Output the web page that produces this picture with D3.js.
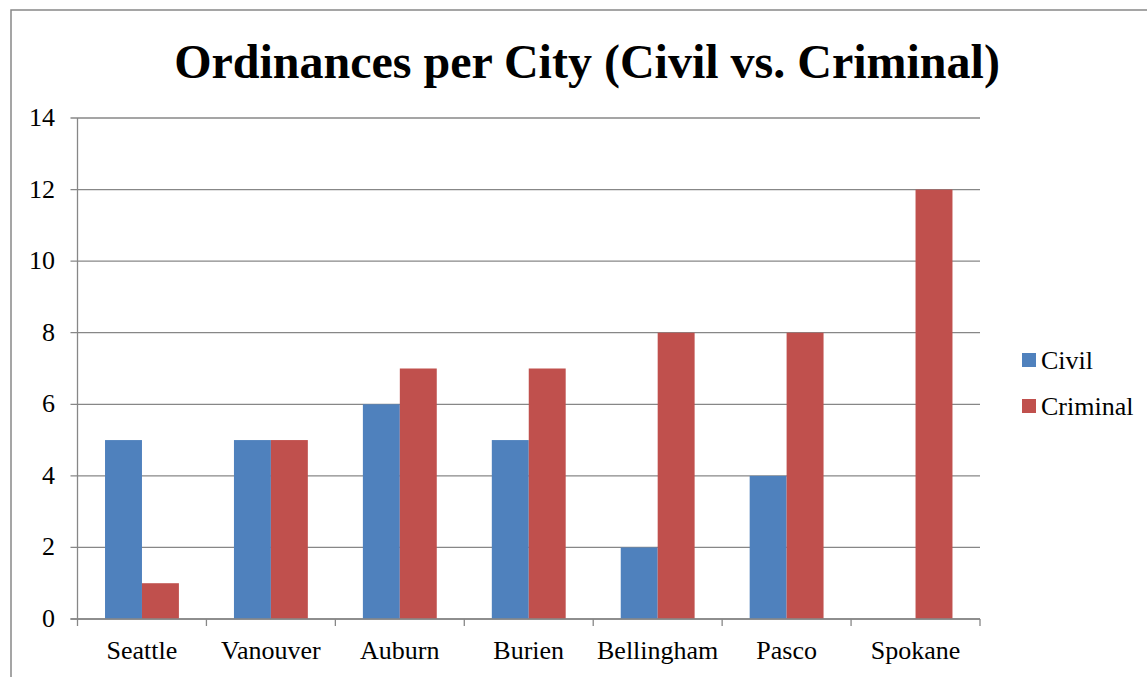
<!DOCTYPE html>
<html><head><meta charset="utf-8">
<script src="https://cdn.jsdelivr.net/npm/d3@7"></script>
<style>body{margin:0;background:#fff}svg{display:block}</style>
</head><body>
<svg id="c" width="1147" height="677"></svg>
<script>
const cities = ["Seattle","Vanouver","Auburn","Burien","Bellingham","Pasco","Spokane"];
const civil = [5,5,6,5,2,4,0];
const criminal = [1,5,7,7,8,8,12];
const seriesNames = ["Civil","Criminal"];
const colors = ["#4F81BD","#C0504D"];
const yTicks = [0,2,4,6,8,10,12,14];

const FF = '"Liberation Serif","Times New Roman",serif';
const svg = d3.select("#c");
svg.append("rect").attr("x",11).attr("y",10).attr("width",1150).attr("height",700)
  .attr("fill","none").attr("stroke","#888").attr("stroke-width",1.5);

const L=77.5, R=980, T=118, B=619;
const x0 = d3.scaleBand().domain(cities).range([L,R]);
const gw = x0.bandwidth()*0.573;
const x1 = d3.scaleBand().domain(seriesNames).range([0,gw]);
const y = d3.scaleLinear().domain([0,14]).range([B,T]);

svg.append("g").selectAll("line").data(yTicks).join("line")
  .attr("x1",L-7).attr("x2",R).attr("y1",d=>y(d)).attr("y2",d=>y(d))
  .attr("stroke","#878787").attr("stroke-width",1.3);
svg.append("line").attr("x1",L).attr("x2",L).attr("y1",T).attr("y2",B)
  .attr("stroke","#878787").attr("stroke-width",1.3);
svg.append("g").selectAll("text").data(yTicks).join("text")
  .attr("x",55).attr("y",d=>y(d)+8).attr("text-anchor","end")
  .style("font-family",FF).style("font-size","26px").text(d=>d);

const data = cities.map((c,i)=>({city:c, vals:[civil[i],criminal[i]]}));
const g = svg.append("g").selectAll("g").data(data).join("g")
  .attr("transform",d=>`translate(${x0(d.city)+(x0.bandwidth()-gw)/2},0)`);
g.selectAll("rect").data(d=>d.vals.map((v,k)=>({v,k}))).join("rect")
  .attr("x",d=>x1(seriesNames[d.k])).attr("width",x1.bandwidth())
  .attr("y",d=>y(d.v)).attr("height",d=>B-y(d.v)).attr("fill",d=>colors[d.k]);

svg.append("line").attr("x1",L-7).attr("x2",R).attr("y1",B).attr("y2",B)
  .attr("stroke","#878787").attr("stroke-width",1.3);
const bounds = cities.map(c=>x0(c)).concat([R]);
svg.append("g").selectAll("line").data(bounds).join("line")
  .attr("x1",d=>d).attr("x2",d=>d).attr("y1",B).attr("y2",B+7)
  .attr("stroke","#878787").attr("stroke-width",1.3);
svg.append("g").selectAll("text").data(cities).join("text")
  .attr("x",d=>x0(d)+x0.bandwidth()/2).attr("y",659).attr("text-anchor","middle")
  .style("font-family",FF).style("font-size","26px").text(d=>d);

svg.append("text").attr("x",587).attr("y",78).attr("text-anchor","middle")
  .style("font-family",FF).style("font-weight","bold").style("font-size","48px")
  .text("Ordinances per City (Civil vs. Criminal)");

const lg = svg.append("g").selectAll("g").data(seriesNames).join("g")
  .attr("transform",(d,i)=>`translate(1022,${353+i*46})`);
lg.append("rect").attr("width",14).attr("height",14).attr("fill",(d,i)=>colors[i]);
lg.append("text").attr("x",19).attr("y",16).style("font-family",FF).style("font-size","26px").text(d=>d);
</script>
</body></html>
